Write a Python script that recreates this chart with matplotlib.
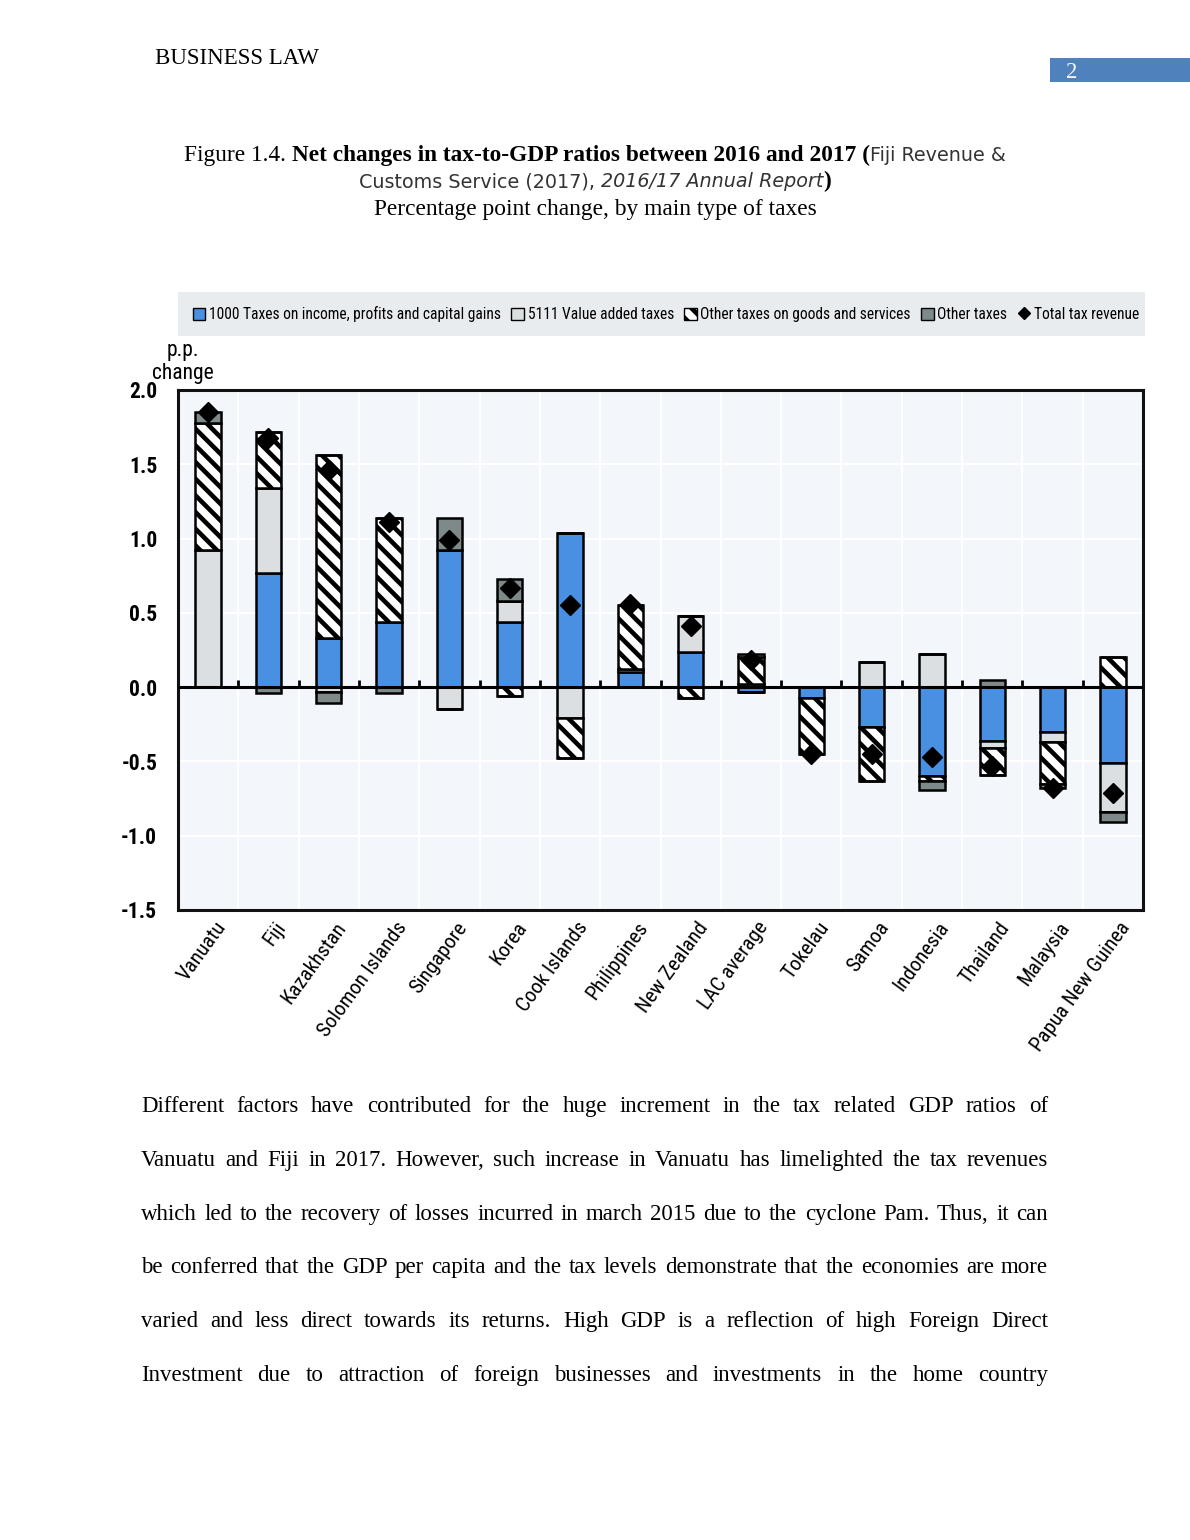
import matplotlib
matplotlib.use('Agg')
import matplotlib.pyplot as plt
import matplotlib.transforms as mtransforms
from matplotlib import font_manager
from matplotlib.patches import Patch, Rectangle
from matplotlib.lines import Line2D
import numpy as np

countries = ['Vanuatu', 'Fiji', 'Kazakhstan', 'Solomon Islands', 'Singapore', 'Korea',
             'Cook Islands', 'Philippines', 'New Zealand', 'LAC average', 'Tokelau',
             'Samoa', 'Indonesia', 'Thailand', 'Malaysia', 'Papua New Guinea']
income = [0, 0.77, 0.33, 0.44, 0.92, 0.44, 1.04, 0.10, 0.235, -0.03, -0.07, -0.27, -0.60, -0.36, -0.30, -0.51]
vat = [0.92, 0.57, -0.03, 0, -0.15, 0.14, -0.21, 0.02, 0.245, 0.02, 0, 0.17, 0.22, -0.05, -0.07, -0.33]
other_goods = [0.86, 0.38, 1.23, 0.70, 0, -0.06, -0.27, 0.43, -0.07, 0.18, -0.38, -0.36, -0.03, -0.18, -0.28, 0.20]
other_taxes = [0.07, -0.04, -0.08, -0.04, 0.22, 0.15, 0, 0, 0, 0.02, 0, 0, -0.06, 0.05, -0.03, -0.07]
total = [1.85, 1.68, 1.46, 1.11, 0.99, 0.67, 0.55, 0.56, 0.41, 0.18, -0.45, -0.45, -0.47, -0.53, -0.68, -0.71]
yticks = [-1.5, -1.0, -0.5, 0.0, 0.5, 1.0, 1.5, 2.0]

body_lines = [
    "Different factors have contributed for the huge increment in the tax related GDP ratios of",
    "Vanuatu and Fiji in 2017. However, such increase in Vanuatu has limelighted the tax revenues",
    "which led to the recovery of losses incurred in march 2015 due to the cyclone Pam. Thus, it can",
    "be conferred that the GDP per capita and the tax levels demonstrate that the economies are more",
    "varied and less direct towards its returns. High GDP is a reflection of high Foreign Direct",
    "Investment due to attraction of foreign businesses and investments in the home country",
]

W, H = 1190, 1540
SERIF = ['Liberation Serif', 'DejaVu Serif']

# pick a condensed sans if one is installed (chart text is Arial Narrow-like)
fams = {f.name for f in font_manager.fontManager.ttflist}
cond = {(f.name, f.stretch) for f in font_manager.fontManager.ttflist}
NARROW = dict(family=['Liberation Sans', 'DejaVu Sans'])
NSCALE = 0.82
for name in ['Liberation Sans Narrow', 'Roboto Condensed', 'Open Sans Condensed', 'DejaVu Sans Condensed']:
    if name in fams:
        NARROW = dict(family=[name, 'DejaVu Sans'])
        NSCALE = 1.0
        break
else:
    for name, st in cond:
        if name in ('Roboto', 'Open Sans', 'DejaVu Sans', 'Noto Sans') and 'condensed' in str(st):
            NARROW = dict(family=[name], stretch='condensed')
            NSCALE = 1.0
            break

plt.rcParams['hatch.linewidth'] = 3.3

fig = plt.figure(figsize=(W / 100, H / 100), dpi=100)
fig.patch.set_facecolor('white')
renderer = fig.canvas.get_renderer()


def fx(px):
    return px / W


def fy(py):
    return 1 - py / H


def text_width(t):
    return t.get_window_extent(renderer=renderer).width


# header and page number
fig.text(fx(155), fy(64), 'BUSINESS LAW', family=SERIF, fontsize=16.5, va='baseline')
fig.patches.append(Rectangle((fx(1050), fy(82)), fx(140), 24 / H, transform=fig.transFigure,
                             facecolor='#4f81bd', edgecolor='none'))
fig.text(fx(1066), fy(78), '2', family=SERIF, fontsize=16.5, color='#f4f6fb', va='baseline')


# title, built from pieces in several fonts
def piece_line(pieces, cx, base):
    arts = []
    for s, kw in pieces:
        arts.append(fig.text(0, fy(base), s, va='baseline', **kw))
    widths = [text_width(a) for a in arts]
    x = cx - sum(widths) / 2
    for a, w in zip(arts, widths):
        a.set_x(fx(x))
        x += w


serif = dict(family=SERIF, fontsize=16.8)
serif_b = dict(family=SERIF, fontsize=16.8, weight='bold')
sans = dict(family='DejaVu Sans', fontsize=13.8, color='#333333')
sans_i = dict(family='DejaVu Sans', fontsize=13.8, color='#333333', style='italic')
piece_line([('Figure 1.4. ', serif),
            ('Net changes in tax-to-GDP ratios between 2016 and 2017 (', serif_b),
            ('Fiji Revenue &', sans)], 595, 161)
piece_line([('Customs Service (2017), ', sans),
            ('2016/17 Annual Report', sans_i),
            (')', serif_b)], 595, 187)
piece_line([('Percentage point change, by main type of taxes', serif)], 595, 215)

# chart
ax = fig.add_axes([fx(178), fy(910), fx(1143 - 178), (910 - 390) / H])
ax.set_facecolor('#f3f6fa')
x = np.arange(len(countries))
bw = 0.42

series = [
    (income, dict(color='#4a90e2', edgecolor='black'), '1000 Taxes on income, profits and capital gains'),
    (vat, dict(color='#dcdfe1', edgecolor='black'), '5111 Value added taxes'),
    (other_goods, dict(color='white', edgecolor='black', hatch='\\\\'), 'Other taxes on goods and services'),
    (other_taxes, dict(color='#7e8a8a', edgecolor='black'), 'Other taxes'),
]
pos_base = np.zeros(len(countries))
neg_base = np.zeros(len(countries))
for vals, style, lab in series:
    v = np.array(vals, dtype=float)
    pos = np.where(v > 0, v, 0)
    neg = np.where(v < 0, v, 0)
    ax.bar(x, pos, bw, bottom=pos_base, linewidth=1.8, zorder=3, **style)
    ax.bar(x, neg, bw, bottom=neg_base, linewidth=1.8, zorder=3, **style)
    pos_base += pos
    neg_base += neg

ax.plot(x, total, 'D', color='black', markersize=10, zorder=5)

ax.set_xlim(-0.5, len(countries) - 0.5)
ax.set_ylim(-1.5, 2.0)
ax.set_yticks(yticks)
ax.set_yticklabels(['%.1f' % t for t in yticks], fontsize=15.5 * NSCALE, weight='bold', **NARROW)
for t in yticks[:-1]:
    ax.axhline(t, color='white', linewidth=1.5, zorder=1)
for b in np.arange(0.5, len(countries) - 0.5):
    ax.axvline(b, color='white', linewidth=1.5, zorder=1)
ax.axhline(0, color='black', linewidth=2.2, zorder=4)
ax.vlines(np.arange(0.5, len(countries) - 0.5), 0, 0.05, color='black', linewidth=2, zorder=4)
ax.tick_params(axis='y', length=0, pad=15)
ax.tick_params(axis='x', length=0, pad=6)
for s in ax.spines.values():
    s.set_linewidth(2.2)
    s.set_color('#111111')

ax.set_xticks(x)
ax.set_xticklabels(countries, fontsize=15 * NSCALE, rotation=54,
                   ha='right', va='top', rotation_mode='anchor', **NARROW)
off = mtransforms.ScaledTranslation(0.06, 0, fig.dpi_scale_trans)
for lbl in ax.get_xticklabels():
    lbl.set_transform(lbl.get_transform() + off)

fig.text(fx(183), fy(379), 'p.p.\nchange', fontsize=15.5 * NSCALE, ha='center',
         va='baseline', linespacing=1.1, multialignment='center', **NARROW)

handles = [Patch(facecolor=st['color'], edgecolor='black', hatch=st.get('hatch'), linewidth=1)
           for _, st, _ in series]
handles.append(Line2D([], [], marker='D', color='black', linestyle='none', markersize=6))
labels = [lab for _, _, lab in series] + ['Total tax revenue']
leg = fig.legend(handles, labels, loc='center',
                 bbox_to_anchor=(fx(666), fy(314)),
                 ncol=5, frameon=False, borderaxespad=0,
                 prop=dict(size=11.2 * NSCALE, **NARROW), handlelength=0.8, handleheight=0.8,
                 handletextpad=0.25, columnspacing=0.65)
fig.patches.append(Rectangle((fx(178), fy(336)), fx(967), 44 / H, transform=fig.transFigure,
                             facecolor='#e9ecef', edgecolor='none', zorder=0))

# body text, justified
left, right = 141, 1048
for i, line in enumerate(body_lines):
    base = 1112 + i * 53.8
    words = line.split()
    arts = [fig.text(0, fy(base), w, family=SERIF, fontsize=16.5, va='baseline') for w in words]
    widths = [text_width(a) for a in arts]
    gap = (right - left - sum(widths)) / (len(words) - 1)
    xp = left
    for a, w in zip(arts, widths):
        a.set_x(fx(xp))
        xp += w + gap

fig.savefig('out.png', dpi=100)
